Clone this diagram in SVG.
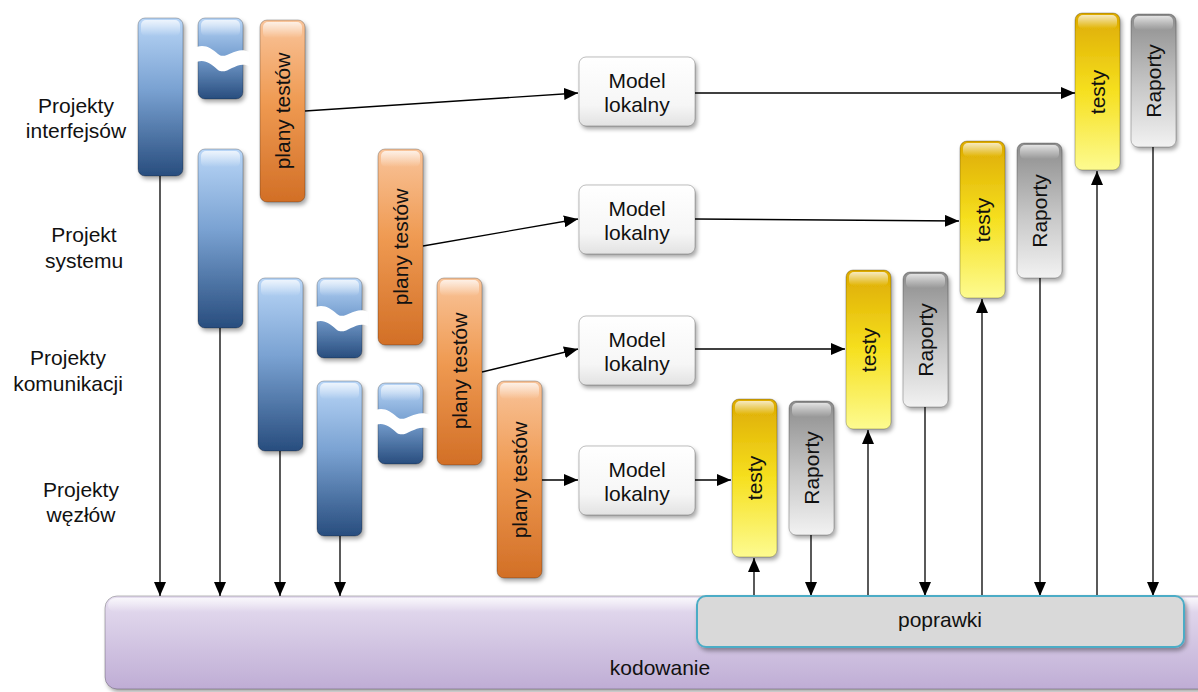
<svg xmlns="http://www.w3.org/2000/svg" width="1198" height="692" viewBox="0 0 1198 692">
  <defs>
    <linearGradient id="gBlue" x1="0" y1="0" x2="0" y2="1">
      <stop offset="0" stop-color="#b9d6f7"/>
      <stop offset="0.45" stop-color="#7aa2d2"/>
      <stop offset="1" stop-color="#284d7e"/>
    </linearGradient>
    <linearGradient id="gOrange" x1="0" y1="0" x2="0" y2="1">
      <stop offset="0" stop-color="#f9c49a"/>
      <stop offset="0.45" stop-color="#ef9a52"/>
      <stop offset="1" stop-color="#d26f26"/>
    </linearGradient>
    <linearGradient id="gYellow" x1="0" y1="0" x2="0" y2="1">
      <stop offset="0" stop-color="#ddaa00"/>
      <stop offset="0.5" stop-color="#f6e020"/>
      <stop offset="1" stop-color="#fdfb90"/>
    </linearGradient>
    <linearGradient id="gGray" x1="0" y1="0" x2="0" y2="1">
      <stop offset="0" stop-color="#8c8c8c"/>
      <stop offset="0.55" stop-color="#c8c8c8"/>
      <stop offset="1" stop-color="#f2f2f2"/>
    </linearGradient>
    <linearGradient id="gWhite" x1="0" y1="0" x2="0" y2="1">
      <stop offset="0" stop-color="#ffffff"/>
      <stop offset="0.7" stop-color="#f6f6f6"/>
      <stop offset="1" stop-color="#e2e2e2"/>
    </linearGradient>
    <linearGradient id="gPurple" x1="0" y1="0" x2="0" y2="1">
      <stop offset="0" stop-color="#e6def0"/>
      <stop offset="1" stop-color="#bfadd5"/>
    </linearGradient>
    <linearGradient id="gShine" x1="0" y1="0" x2="0" y2="1">
      <stop offset="0" stop-color="#ffffff" stop-opacity="0.75"/>
      <stop offset="1" stop-color="#ffffff" stop-opacity="0"/>
    </linearGradient>
    <filter id="shadow" x="-20%" y="-10%" width="150%" height="130%">
      <feDropShadow dx="2" dy="3" stdDeviation="2" flood-color="#000" flood-opacity="0.35"/>
    </filter>
    <marker id="arrow" viewBox="0 0 14 12" refX="14" refY="6" markerWidth="14" markerHeight="12" markerUnits="userSpaceOnUse" orient="auto">
      <path d="M0,0 L14,6 L0,12 Z" fill="#000"/>
    </marker>
  </defs>
  <style>
    text { font-family: "Liberation Sans", Arial, sans-serif; font-size: 21px; fill: #111; }
    .lbl { text-anchor: middle; }
    .bar { stroke: #000; stroke-opacity: 0.25; stroke-width: 1; filter: url(#shadow); }
    .blue { fill: url(#gBlue); }
    .orange { fill: url(#gOrange); }
    .yellow { fill: url(#gYellow); }
    .gray { fill: url(#gGray); }
    .model { fill: url(#gWhite); }
    .shine { fill: url(#gShine); }
    .cut { fill: #ffffff; }
    .conn { stroke: #000; stroke-width: 1.3; fill: none; marker-end: url(#arrow); }
  </style>

  <rect width="1198" height="692" fill="#ffffff"/>

  <!-- coding base -->
  <g id="kodowanie">
    <rect x="105" y="596" width="1110" height="93" rx="12" fill="url(#gPurple)" class="bar"/>
    <rect x="108" y="598" width="1100" height="14" rx="8" class="shine"/>
    <text x="660" y="675" class="lbl">kodowanie</text>
  </g>

  <!-- left row labels -->
  <g id="labels">
    <text x="76" y="113" class="lbl">Projekty</text>
    <text x="76" y="138" class="lbl">interfejsów</text>
    <text x="84" y="242" class="lbl">Projekt</text>
    <text x="84" y="268" class="lbl">systemu</text>
    <text x="68" y="365" class="lbl">Projekty</text>
    <text x="68" y="391" class="lbl">komunikacji</text>
    <text x="81" y="497" class="lbl">Projekty</text>
    <text x="81" y="522" class="lbl">węzłów</text>
  </g>

  <!-- design bars -->
  <g id="blue-1"><rect x="138" y="18" width="45" height="158" rx="7" class="bar blue"/><rect x="141" y="20" width="39" height="16" rx="5" class="shine"/></g>
  <g id="blue-1b"><rect x="198" y="18" width="45" height="81" rx="7" class="bar blue"/><rect x="201" y="20" width="39" height="16" rx="5" class="shine"/>
    <path class="cut" d="M192,49 C203,43 210,47 218,54 C226,61 236,45 249,52 L249,66 C236,60 227,76 218,70 C209,62 203,58 192,64 Z"/></g>
  <g id="blue-2"><rect x="198" y="149" width="45" height="179" rx="7" class="bar blue"/><rect x="201" y="151" width="39" height="16" rx="5" class="shine"/></g>
  <g id="blue-3"><rect x="258" y="278" width="45" height="173" rx="7" class="bar blue"/><rect x="261" y="280" width="39" height="16" rx="5" class="shine"/></g>
  <g id="blue-3b"><rect x="317" y="278" width="45" height="80" rx="7" class="bar blue"/><rect x="320" y="280" width="39" height="16" rx="5" class="shine"/>
    <path class="cut" d="M311,309 C322,303 329,307 337,314 C345,321 355,305 368,312 L368,326 C355,320 346,336 337,330 C328,322 322,318 311,324 Z"/></g>
  <g id="blue-4"><rect x="317" y="381" width="45" height="155" rx="7" class="bar blue"/><rect x="320" y="383" width="39" height="16" rx="5" class="shine"/></g>
  <g id="blue-4b"><rect x="378" y="383" width="45" height="81" rx="7" class="bar blue"/><rect x="381" y="385" width="39" height="16" rx="5" class="shine"/>
    <path class="cut" d="M371,412 C382,406 389,410 397,417 C405,424 415,408 430,415 L430,429 C415,423 406,439 397,433 C388,425 382,421 371,427 Z"/></g>

  <!-- test plans -->
  <g id="plan-1"><rect x="260" y="20" width="45" height="182" rx="7" class="bar orange"/><rect x="263" y="22" width="39" height="16" rx="5" class="shine"/>
    <text transform="translate(290,111) rotate(-90)" class="lbl">plany testów</text></g>
  <g id="plan-2"><rect x="378" y="149" width="45" height="196" rx="7" class="bar orange"/><rect x="381" y="151" width="39" height="16" rx="5" class="shine"/>
    <text transform="translate(408,247) rotate(-90)" class="lbl">plany testów</text></g>
  <g id="plan-3"><rect x="437" y="278" width="45" height="187" rx="7" class="bar orange"/><rect x="440" y="280" width="39" height="16" rx="5" class="shine"/>
    <text transform="translate(467,371) rotate(-90)" class="lbl">plany testów</text></g>
  <g id="plan-4"><rect x="497" y="381" width="45" height="197" rx="7" class="bar orange"/><rect x="500" y="383" width="39" height="16" rx="5" class="shine"/>
    <text transform="translate(527,480) rotate(-90)" class="lbl">plany testów</text></g>

  <!-- local models -->
  <g id="model-1"><rect x="579" y="57" width="116" height="69" rx="7" class="bar model"/>
    <text x="637" y="88" class="lbl">Model</text><text x="637" y="112" class="lbl">lokalny</text></g>
  <g id="model-2"><rect x="579" y="185" width="116" height="69" rx="7" class="bar model"/>
    <text x="637" y="216" class="lbl">Model</text><text x="637" y="240" class="lbl">lokalny</text></g>
  <g id="model-3"><rect x="579" y="316" width="116" height="69" rx="7" class="bar model"/>
    <text x="637" y="347" class="lbl">Model</text><text x="637" y="371" class="lbl">lokalny</text></g>
  <g id="model-4"><rect x="579" y="446" width="116" height="69" rx="7" class="bar model"/>
    <text x="637" y="477" class="lbl">Model</text><text x="637" y="501" class="lbl">lokalny</text></g>

  <!-- tests and reports -->
  <g id="testy-1"><rect x="732" y="399" width="45" height="158" rx="7" class="bar yellow"/><rect x="735" y="401" width="39" height="14" rx="5" class="shine"/>
    <text transform="translate(762,478) rotate(-90)" class="lbl">testy</text></g>
  <g id="raporty-1"><rect x="789" y="401" width="45" height="134" rx="7" class="bar gray"/><rect x="792" y="403" width="39" height="14" rx="5" class="shine"/>
    <text transform="translate(819,468) rotate(-90)" class="lbl">Raporty</text></g>
  <g id="testy-2"><rect x="846" y="270" width="45" height="159" rx="7" class="bar yellow"/><rect x="849" y="272" width="39" height="14" rx="5" class="shine"/>
    <text transform="translate(876,350) rotate(-90)" class="lbl">testy</text></g>
  <g id="raporty-2"><rect x="903" y="272" width="45" height="135" rx="7" class="bar gray"/><rect x="906" y="274" width="39" height="14" rx="5" class="shine"/>
    <text transform="translate(933,340) rotate(-90)" class="lbl">Raporty</text></g>
  <g id="testy-3"><rect x="960" y="141" width="45" height="157" rx="7" class="bar yellow"/><rect x="963" y="143" width="39" height="14" rx="5" class="shine"/>
    <text transform="translate(990,220) rotate(-90)" class="lbl">testy</text></g>
  <g id="raporty-3"><rect x="1017" y="143" width="45" height="135" rx="7" class="bar gray"/><rect x="1020" y="145" width="39" height="14" rx="5" class="shine"/>
    <text transform="translate(1047,211) rotate(-90)" class="lbl">Raporty</text></g>
  <g id="testy-4"><rect x="1075" y="13" width="45" height="157" rx="7" class="bar yellow"/><rect x="1078" y="15" width="39" height="14" rx="5" class="shine"/>
    <text transform="translate(1105,92) rotate(-90)" class="lbl">testy</text></g>
  <g id="raporty-4"><rect x="1131" y="14" width="45" height="133" rx="7" class="bar gray"/><rect x="1134" y="16" width="39" height="14" rx="5" class="shine"/>
    <text transform="translate(1161,81) rotate(-90)" class="lbl">Raporty</text></g>

  <!-- connectors -->
  <g id="connectors">
    <line x1="160" y1="176" x2="160" y2="596" class="conn"/>
    <line x1="220" y1="328" x2="220" y2="596" class="conn"/>
    <line x1="280" y1="451" x2="280" y2="596" class="conn"/>
    <line x1="340" y1="536" x2="340" y2="596" class="conn"/>

    <line x1="305" y1="111" x2="578" y2="93" class="conn"/>
    <line x1="423" y1="246" x2="578" y2="219" class="conn"/>
    <line x1="482" y1="372" x2="578" y2="349" class="conn"/>
    <line x1="542" y1="480" x2="578" y2="480" class="conn"/>

    <line x1="695" y1="93" x2="1075" y2="93" class="conn"/>
    <line x1="695" y1="219" x2="959" y2="221" class="conn"/>
    <line x1="695" y1="349" x2="845" y2="349" class="conn"/>
    <line x1="695" y1="480" x2="731" y2="480" class="conn"/>

    <line x1="754" y1="596" x2="754" y2="558" class="conn"/>
    <line x1="868" y1="596" x2="868" y2="430" class="conn"/>
    <line x1="982" y1="596" x2="982" y2="299" class="conn"/>
    <line x1="1097" y1="596" x2="1097" y2="171" class="conn"/>

    <line x1="811" y1="535" x2="811" y2="596" class="conn"/>
    <line x1="925" y1="407" x2="925" y2="596" class="conn"/>
    <line x1="1040" y1="278" x2="1040" y2="596" class="conn"/>
    <line x1="1153" y1="147" x2="1153" y2="596" class="conn"/>
  </g>

  <!-- corrections -->
  <g id="poprawki">
    <rect x="697" y="596" width="487" height="51" rx="9" fill="#d9d9d9" stroke="#4bacc6" stroke-width="2" filter="url(#shadow)"/>
    <text x="940" y="627" class="lbl">poprawki</text>
  </g>
</svg>
